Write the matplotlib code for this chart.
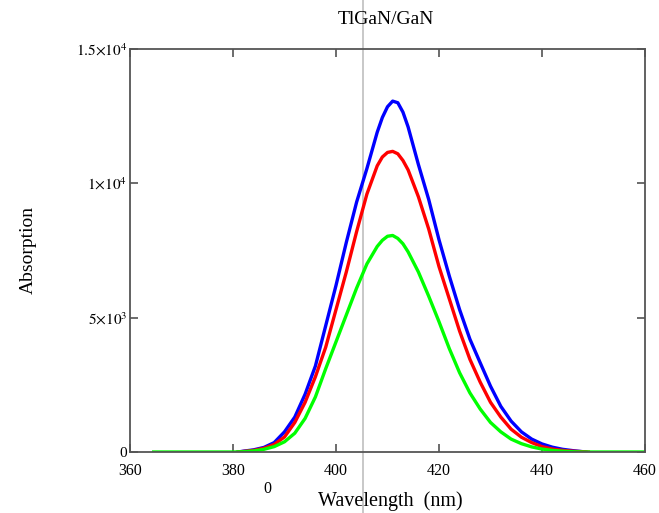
import numpy as np
import matplotlib.pyplot as plt

plt.rcParams['font.family'] = ['Liberation Serif', 'DejaVu Serif']
plt.rcParams['mathtext.fontset'] = 'stix'

# wavelength grid (nm) and absorption values
wl_blue = [381, 382, 384, 386, 388, 390, 392, 394, 396, 398, 400, 402, 404, 406, 408, 409, 410, 411,
           412, 413, 414, 416, 418, 420, 422, 424, 426, 428, 430, 432, 434, 436, 438, 440, 442, 444, 446, 448.5]
blue = [0, 30, 80, 170, 350, 750, 1300, 2150, 3200, 4700, 6200, 7800, 9300, 10550, 11900, 12450, 12850, 13060,
        13000, 12650, 12100, 10700, 9400, 7900, 6550, 5300, 4200, 3320, 2450, 1700, 1150, 750, 480, 300, 180, 100, 50, 0]

wl_red = [381, 382, 384, 386, 388, 390, 392, 394, 396, 398, 400, 402, 404, 406, 408, 409, 410, 411,
          412, 413, 414, 416, 418, 420, 422, 424, 426, 428, 430, 432, 434, 436, 438, 440, 442, 444, 446, 448, 449]
red = [0, 20, 60, 140, 280, 560, 1100, 1850, 2800, 3900, 5300, 6700, 8200, 9600, 10650, 10980, 11150, 11190,
       11100, 10850, 10500, 9500, 8300, 6900, 5700, 4500, 3450, 2600, 1850, 1300, 850, 550, 350, 200, 110, 60, 30, 10, 0]

wl_green = [364.6, 380, 382, 384, 386, 388, 390, 392, 394, 396, 398, 400, 402, 404, 406, 408, 409, 410, 411,
            412, 413, 414, 416, 418, 420, 422, 424, 426, 428, 430, 432, 434, 436, 438, 440, 442, 444, 446, 448, 459.6]
green = [0, 0, 10, 40, 100, 200, 380, 700, 1250, 2050, 3100, 4100, 5100, 6100, 7000, 7650, 7880, 8030, 8060,
         7950, 7750, 7450, 6700, 5800, 4850, 3850, 2950, 2200, 1600, 1100, 750, 480, 310, 190, 110, 60, 30, 10, 0, 0]

x_ticks = [360, 380, 400, 420, 440, 460]
y_ticks = [0, 5000, 10000, 15000]
y_labels = ['0', r'$5{\times}10^{3}$', r'$1{\times}10^{4}$', r'$1.5{\times}10^{4}$']
marker_x = 405.2

fig = plt.figure(figsize=(6.59, 5.13), dpi=100)
ax = fig.add_axes([130/659, 1 - 452/513, 515/659, 403/513])

ax.plot(wl_blue, blue, color='#0000ff', lw=2.4)
ax.plot(wl_red, red, color='#ff0000', lw=2.4)
ax.plot(wl_green, green, color='#00ff00', lw=2.4)

ax.set_xlim(360, 460)
ax.set_ylim(0, 15000)
ax.set_xticks(x_ticks)
ax.set_yticks(y_ticks)
ax.set_yticklabels(y_labels)
ax.tick_params(direction='in', length=6, width=1.1, color='#444444',
               top=True, right=True)
ax.tick_params(axis='x', labelsize=11.5, pad=8)
ax.tick_params(axis='y', labelsize=11, pad=2)
for s in ax.spines.values():
    s.set_color('#555555')
    s.set_linewidth(1.3)

# grey vertical marker running over the whole figure
ax.axvline(marker_x, ymin=-0.16, ymax=1.13, color='#c8c8c8', lw=1.4, clip_on=False, zorder=0)

fig.text(386/659, 1 - 20/513, 'TlGaN/GaN', ha='center', va='center', fontsize=14)
fig.text(390/659, 1 - 501/513, 'Wavelength  (nm)', ha='center', va='center', fontsize=14.5)
fig.text(267/659, 1 - 489/513, '0', ha='center', va='center', fontsize=11.5)
fig.text(28/659, 1 - 250/513, 'Absorption', ha='center', va='center', fontsize=14, rotation=90)

fig.savefig('out.png', dpi=100, facecolor='white')
